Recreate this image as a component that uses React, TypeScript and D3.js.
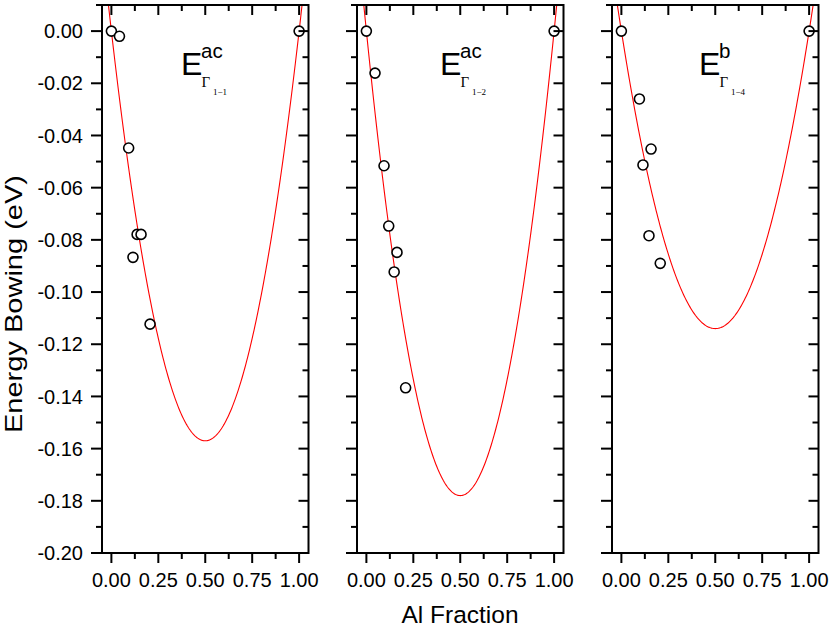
import React from "react";
import * as d3 from "d3";

// ---- data ----
const superLabels = ["ac", "ac", "b"];
const subLabels = ["1\u22121", "1\u22122", "1\u22124"];
const bowingParams = [0.628, 0.712, 0.456]; // fitted bowing b, curve = b*x*(x-1)

const p1x = [0, 0.043, 0.092, 0.137, 0.158, 0.115, 0.206, 1.0];
const p1y = [0, -0.002, -0.0448, -0.0779, -0.0779, -0.0867, -0.1123, 0];
const p2x = [0, 0.046, 0.094, 0.119, 0.163, 0.148, 0.209, 1.0];
const p2y = [0, -0.0161, -0.0516, -0.0747, -0.0848, -0.0923, -0.1367, 0];
const p3x = [0, 0.096, 0.158, 0.115, 0.147, 0.207, 1.0];
const p3y = [0, -0.026, -0.0452, -0.0513, -0.0784, -0.089, 0];

const xTicks = [0, 0.25, 0.5, 0.75, 1.0];
const xMinorTicks = [0.125, 0.375, 0.625, 0.875];
const yTicks = [0, -0.02, -0.04, -0.06, -0.08, -0.1, -0.12, -0.14, -0.16, -0.18, -0.2];
const yMinorTicks = [0.01, -0.01, -0.03, -0.05, -0.07, -0.09, -0.11, -0.13, -0.15, -0.17, -0.19];

const pointsX = [p1x, p2x, p3x];
const pointsY = [p1y, p2y, p3y];

// ---- layout ----
const W = 830;
const H = 629;
const panelLeft = [102, 357, 612];
const labelX = [181, 440, 699];
const panelW = 206.5;
const top = 5;
const bottom = 553;
const font = "Liberation Sans, Arial, sans-serif";
const serif = "Liberation Serif, Times New Roman, serif";

export default function App() {
  const y = d3.scaleLinear().domain([-0.2, 0.01]).range([bottom, top]);

  return (
    <svg width={W} height={H} style={{ position: "absolute", left: 0, top: 0 }}>
      <rect x={0} y={0} width={W} height={H} fill="white" />
      <defs>
        {panelLeft.map((l, i) => (
          <clipPath id={`clip${i}`} key={i}>
            <rect x={l} y={top} width={panelW} height={bottom - top} />
          </clipPath>
        ))}
      </defs>
      {panelLeft.map((l, i) => {
        const x = d3.scaleLinear().domain([-0.05, 1.05]).range([l, l + panelW]);
        const b = bowingParams[i];
        const samples = d3.range(-0.05, 1.0501, 0.005);
        const line = d3
          .line<number>()
          .x((d) => x(d))
          .y((d) => y(b * d * (d - 1)));
        const r = l + panelW;
        const lx = labelX[i];
        return (
          <g key={i}>
            <path d={line(samples) || ""} fill="none" stroke="#ff0000" strokeWidth={1.1} clipPath={`url(#clip${i})`} />
            {pointsX[i].map((px, j) => (
              <circle key={j} cx={x(px)} cy={y(pointsY[i][j])} r={5} fill="white" stroke="black" strokeWidth={1.6} />
            ))}
            {yTicks.map((t) => (
              <g key={"y" + t}>
                <line x1={l - 11} x2={l} y1={y(t)} y2={y(t)} stroke="black" strokeWidth={2} />
                <line x1={r - 10} x2={r} y1={y(t)} y2={y(t)} stroke="black" strokeWidth={2} />
              </g>
            ))}
            {yMinorTicks.map((t) => (
              <g key={"ym" + t}>
                <line x1={l - 6} x2={l} y1={y(t)} y2={y(t)} stroke="black" strokeWidth={2} />
                <line x1={r - 6} x2={r} y1={y(t)} y2={y(t)} stroke="black" strokeWidth={2} />
              </g>
            ))}
            {xTicks.map((t) => (
              <g key={"x" + t}>
                <line x1={x(t)} x2={x(t)} y1={bottom} y2={bottom + 10} stroke="black" strokeWidth={2} />
                <line x1={x(t)} x2={x(t)} y1={top} y2={top + 10} stroke="black" strokeWidth={2} />
                <text x={x(t)} y={587} textAnchor="middle" fontFamily={font} fontSize={20} fill="black">
                  {t.toFixed(2)}
                </text>
              </g>
            ))}
            {xMinorTicks.map((t) => (
              <g key={"xm" + t}>
                <line x1={x(t)} x2={x(t)} y1={bottom} y2={bottom + 6} stroke="black" strokeWidth={2} />
                <line x1={x(t)} x2={x(t)} y1={top} y2={top + 6} stroke="black" strokeWidth={2} />
              </g>
            ))}
            <rect x={l} y={top} width={panelW} height={bottom - top} fill="none" stroke="black" strokeWidth={2} />
            <g>
              <text x={lx} y={75} fontFamily={font} fontSize={32} fill="black">
                E
              </text>
              <text x={lx + 20} y={57.5} fontFamily={font} fontSize={20.5} fill="black">
                {superLabels[i]}
              </text>
              <text x={lx + 20.5} y={87} fontFamily={serif} fontSize={15} fill="black">
                Γ
              </text>
              <text x={lx + 32} y={95} fontFamily={serif} fontSize={9} fill="black">
                {subLabels[i]}
              </text>
            </g>
            {i === 0 &&
              yTicks.map((t) => (
                <text key={"yl" + t} x={83} y={y(t)} dy="0.36em" textAnchor="end" fontFamily={font} fontSize={20} fill="black">
                  {t.toFixed(2)}
                </text>
              ))}
          </g>
        );
      })}
      <text x={460} y={623} textAnchor="middle" fontFamily={font} fontSize={24.5} fill="black">
        Al Fraction
      </text>
      <text
        transform={`translate(22, 433) rotate(-90)`}
        fontFamily={font}
        fontSize={24.5}
        fill="black"
        textLength={258}
        lengthAdjust="spacingAndGlyphs"
      >
        Energy Bowing (eV)
      </text>
    </svg>
  );
}
